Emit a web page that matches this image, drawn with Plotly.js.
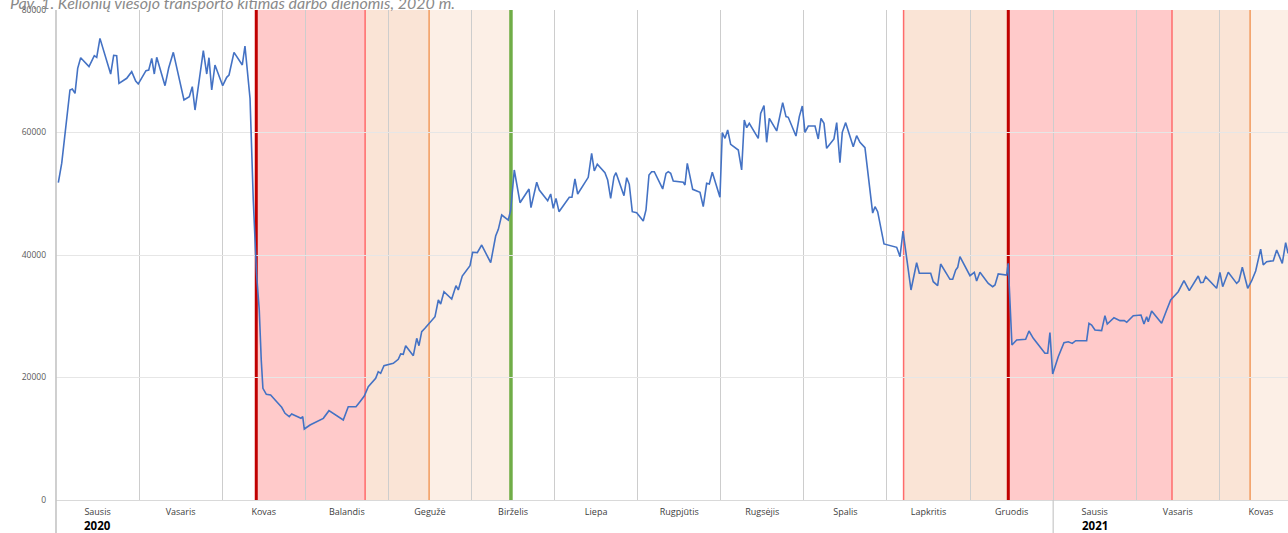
<!DOCTYPE html>
<html>
<head>
<meta charset="utf-8">
<script src="https://cdn.plot.ly/plotly-3.0.1.min.js"></script>
<style>html,body{margin:0;padding:0;background:#fff;}#chart{width:1288px;height:533px;}</style>
</head>
<body>
<div id="chart"></div>
<script>
// time in months since 1 Jan 2020 (each month one unit, as on the original axis)
const t = [0.028,0.069,0.168,0.196,0.229,0.261,0.297,0.397,0.461,0.490,0.529,0.610,0.658,0.694,0.730,0.758,0.851,0.911,0.959,0.990,
1.083,1.116,1.152,1.183,1.212,1.312,1.356,1.412,1.540,1.604,1.640,1.673,1.724,1.773,1.814,1.841,1.874,1.913,
2.006,2.054,2.082,2.142,2.242,2.274,2.335,2.374,2.413,2.446,2.470,2.490,2.531,2.583,2.656,2.716,2.756,2.807,2.836,2.897,2.948,2.969,2.988,
3.057,3.144,3.217,3.285,3.369,3.457,3.517,3.610,3.658,3.710,3.758,3.847,3.878,3.907,3.947,
4.059,4.119,4.148,4.179,4.208,4.300,4.341,4.368,4.401,4.440,4.489,4.561,4.601,4.629,4.669,4.762,4.813,4.841,4.889,4.982,
5.014,5.070,5.123,5.231,5.291,5.323,5.364,5.443,5.472,5.515,5.584,5.692,5.716,5.785,5.816,5.917,5.953,5.984,
6.017,6.053,6.177,6.209,6.245,6.278,6.405,6.446,6.478,6.514,6.606,6.639,6.675,6.715,6.739,6.835,6.868,6.899,6.935,6.988,
7.067,7.100,7.136,7.168,7.200,7.301,7.341,7.368,7.397,7.428,7.549,7.569,7.597,7.662,7.750,7.789,7.830,7.862,7.898,7.990,
8.018,8.051,8.083,8.119,8.211,8.251,8.283,8.312,8.343,8.451,8.480,8.520,8.552,8.584,8.673,8.745,8.785,8.812,8.905,8.945,8.981,
9.013,9.053,9.134,9.173,9.206,9.242,9.274,9.362,9.395,9.434,9.462,9.503,9.594,9.635,9.675,9.735,9.828,9.856,9.888,9.964,
10.117,10.157,10.193,10.289,10.357,10.389,10.526,10.557,10.610,10.646,10.758,10.791,10.827,10.851,10.878,10.999,
11.051,11.079,11.119,11.219,11.272,11.300,11.339,11.440,11.459,11.504,11.561,11.669,11.709,11.761,11.901,11.934,11.961,11.994,
12.061,12.130,12.182,12.230,12.271,12.403,12.431,12.463,12.503,12.583,12.623,12.651,12.732,12.804,12.856,12.885,12.964,
13.057,13.093,13.125,13.144,13.185,13.305,13.366,13.414,13.505,13.574,13.638,13.746,13.775,13.806,13.835,13.967,
14.007,14.040,14.107,14.208,14.236,14.276,14.341,14.389,14.437,14.497,14.528,14.569,14.649,14.690,14.757,14.798,14.826,14.870];

const trips = [51800,55000,66940,67100,66400,70480,72200,70750,72540,72270,75370,71560,69550,72600,72540,68030,68850,69930,68410,67920,
70090,70200,72110,69550,72270,67640,70530,73090,65300,65850,67480,63670,68570,73360,69550,72210,66940,71020,
67640,69010,69390,73090,71020,74120,65580,49000,37000,31000,22860,18230,17250,17140,16050,15130,14150,13600,14040,13600,13330,13600,11590,
12240,12780,13330,14580,13880,13060,15230,15230,16050,16980,18500,19870,20950,20680,21930,
22320,22970,23840,23790,25190,23560,26400,25190,27480,28030,28850,29930,32650,32000,34010,32810,34990,34290,36570,38250,
40440,40380,41630,38740,43100,44190,46530,45710,47350,53880,48540,50780,47730,51870,50610,48870,49960,47620,
49250,47070,49420,49420,52410,49960,52680,56600,53720,54810,53440,52240,49250,52790,53440,49690,52620,51540,47070,46910,
45550,47350,53060,53600,53600,50780,53330,53600,53330,52080,51870,51430,54970,50720,50230,47890,51700,51590,53500,49420,
59970,59050,60410,58070,57140,53880,62040,60790,61500,59050,63130,64380,58400,62310,60250,64870,62590,62480,59430,62590,64330,
60030,61060,61060,58940,62310,61500,57420,58940,61610,55070,60030,61610,57690,59480,58400,57520,46850,47890,47070,41800,
41250,39730,43920,34290,38740,37010,37010,35640,34990,38530,36030,36030,37550,37990,39730,36620,
37170,35750,37170,35370,34830,35100,36900,36730,38640,25310,26120,26230,27590,26400,23950,23950,27320,20570,
23400,25680,25840,25570,26010,26010,28850,28570,27760,27650,30090,28740,29770,29280,29280,29010,30090,
30200,28740,29930,29110,30860,28850,31020,32650,34010,35800,34180,36570,35480,35540,36460,34560,
37170,34830,37170,35370,35750,37990,34560,35800,37390,40970,38370,38910,39070,40810,38640,42010,40270,41500];

const monthLabels = ['Sausis','Vasaris','Kovas','Balandis','Gegužė','Birželis','Liepa','Rugpjūtis','Rugsėjis','Spalis','Lapkritis','Gruodis','Sausis','Vasaris','Kovas'];
const yearLabels = ['2020','2021'];
const yearStartMonth = [0, 12];

// restriction phases (in the same month units)
const phaseStart = [2.41, 3.72, 4.49, 10.20, 11.46, 13.43, 14.37];
const phaseEnd   = [3.72, 4.49, 5.475, 11.46, 13.43, 14.37, 14.83];
const phaseKind  = ['strict','eased','mild','eased','strict','eased','mild'];
const eventT     = [2.41, 3.72, 4.49, 5.475, 10.20, 11.46, 13.43, 14.37];
const eventKind  = ['start','step','step2','end','step','start','step','step2'];

const fillColor = {strict:'#FFCACA', eased:'#FAE4D6', mild:'#FCEFE6'};
const lineStyle = {
  start:{color:'#C00000', width:3},
  step:{color:'#FF6B6B', width:1.5},
  step2:{color:'#F29A5C', width:1.5},
  end:{color:'#70AD47', width:3.5}
};

const xEnd = 14.826;
const shapes = [];
phaseStart.forEach((s,i)=>{
  shapes.push({type:'rect', xref:'x', yref:'paper', x0:s, x1:phaseEnd[i], y0:0, y1:1,
    fillcolor:fillColor[phaseKind[i]], line:{width:0}, layer:'below'});
});
eventT.forEach((e,i)=>{
  shapes.push({type:'line', xref:'x', yref:'paper', x0:e, x1:e, y0:0, y1:1,
    line:lineStyle[eventKind[i]], layer:'between'});
});
// year separator and left axis line extending into the label band
shapes.push({type:'line', xref:'x', yref:'paper', x0:yearStartMonth[1], x1:yearStartMonth[1], y0:0, y1:-0.0673, line:{color:'#C8C8C8', width:1.2}, layer:'above'});
shapes.push({type:'line', xref:'paper', yref:'paper', x0:0, x1:0, y0:-0.0673, y1:1, line:{color:'#C4C4C4', width:1.6}, layer:'above'});

const annotations = [];
yearLabels.forEach((y,i)=>{
  annotations.push({text:'<b>'+y+'</b>', xref:'x', yref:'paper', x:yearStartMonth[i]+0.5, y:-0.052,
    xanchor:'center', yanchor:'middle', showarrow:false, borderpad:0, font:{family:'Open Sans, sans-serif', size:11.5, color:'#000'}});
});
annotations.push({text:'<i>Pav. 1. Kelionių viešojo transporto kitimas darbo dienomis, 2020 m.</i>',
  xref:'paper', yref:'paper', x:-0.039, y:0.992, xanchor:'left', yanchor:'bottom', showarrow:false,
  font:{family:'Lato, sans-serif', size:16, color:'#8A8A8A'}});

const tickPos = monthLabels.map((m,i)=>i+0.5);

Plotly.newPlot('chart', [{
  x: t, y: trips, type:'scatter', mode:'lines',
  line:{color:'#4472C4', width:1.6}, hoverinfo:'y'
}], {
  width:1288, height:533,
  margin:{l:56, r:0, t:10, b:33},
  paper_bgcolor:'#fff', plot_bgcolor:'#fff',
  showlegend:false,
  xaxis:{range:[0,xEnd], tickmode:'array', tickvals:tickPos, ticktext:monthLabels,
    showgrid:false, ticks:'', ticklabelstandoff:3,
    tickfont:{family:'Open Sans, sans-serif', size:9, color:'#404040'},
    minor:{tickmode:'linear', tick0:0, dtick:1, showgrid:true, gridcolor:'#CDCDCD', gridwidth:1, ticks:''},
    showline:true, linecolor:'#D9D9D9', linewidth:1, zeroline:false, fixedrange:true},
  yaxis:{range:[0,80000], tickvals:[0,20000,40000,60000,80000], ticktext:['0','20000','40000','60000','80000'],
    showgrid:true, gridcolor:'#E6E6E6', gridwidth:1, zeroline:false, showline:false,
    ticks:'', ticklabelstandoff:9,
    tickfont:{family:'Open Sans, sans-serif', size:8.5, color:'#595959'}, fixedrange:true},
  shapes:shapes, annotations:annotations
}, {displayModeBar:false, staticPlot:true});
</script>
</body>
</html>
